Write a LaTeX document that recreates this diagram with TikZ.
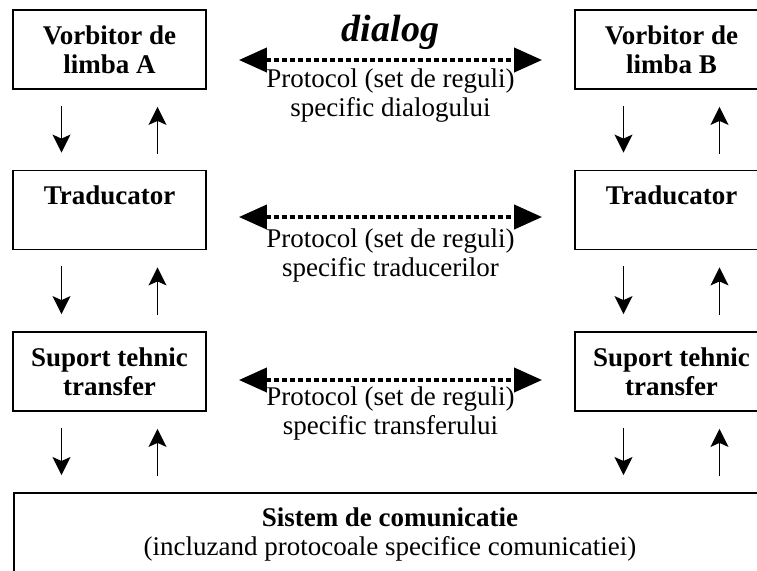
\documentclass[tikz,border=0pt]{standalone}
\usepackage{fontspec}
\setmainfont{Liberation Serif}
\usetikzlibrary{arrows.meta}

\tikzset{
  layer/.style={draw, line width=0.9pt, minimum width=96.5pt, minimum height=39.5pt,
    inner sep=0pt, align=center, font=\bfseries},
  flow/.style={-{Stealth[length=9pt,width=9pt,inset=2pt]}, line width=0.8pt,
    shorten <=8pt, shorten >=8.5pt},
  protocol/.style={{Triangle[length=14pt,width=12pt]}-{Triangle[length=14pt,width=12pt]},
    line width=2pt, dash pattern=on 2.5pt off 1.5pt, shorten <=16pt, shorten >=16pt},
}

\begin{document}
\fontsize{13.5}{14.5}\selectfont
\begin{tikzpicture}[x=0.5pt, y=-0.5pt]
    \clip (0,0) rectangle (757,570);

    % side A
    \node[layer] (vorbA) at (109.5,49.5) {Vorbitor de\\limba A};
    \node[layer] (tradA) at (109.5,210) {Traducator\\\mbox{}};
    \node[layer] (supA) at (109.5,371.5) {Suport tehnic\\transfer};

    % side B
    \node[layer] (vorbB) at (671.5,49.5) {Vorbitor de\\limba B};
    \node[layer] (tradB) at (671.5,210) {Traducator\\\mbox{}};
    \node[layer] (supB) at (671.5,371.5) {Suport tehnic\\transfer};

    % sistem de comunicatie
    \node[draw, line width=0.9pt, minimum width=387pt, minimum height=54pt, anchor=north west] (sistem) at (13,492) {};
    \node[align=center] (sistemtxt) at (390,534) {\textbf{Sistem de comunicatie}\\(incluzand protocoale specifice comunicatiei)};

    % fluxuri verticale
    \draw[flow] ([xshift=-24pt]vorbA.south) -- ([xshift=-24pt]tradA.north);
    \draw[flow] ([xshift=24pt]tradA.north) -- ([xshift=24pt]vorbA.south);
    \draw[flow] ([xshift=-24pt]tradA.south) -- ([xshift=-24pt]supA.north);
    \draw[flow] ([xshift=24pt]supA.north) -- ([xshift=24pt]tradA.south);
    \draw[flow] ([xshift=-24pt]supA.south) -- ([xshift=-24pt]supA.south |- sistem.north);
    \draw[flow] ([xshift=24pt]supA.south |- sistem.north) -- ([xshift=24pt]supA.south);

    \draw[flow] ([xshift=-24pt]vorbB.south) -- ([xshift=-24pt]tradB.north);
    \draw[flow] ([xshift=24pt]tradB.north) -- ([xshift=24pt]vorbB.south);
    \draw[flow] ([xshift=-24pt]tradB.south) -- ([xshift=-24pt]supB.north);
    \draw[flow] ([xshift=24pt]supB.north) -- ([xshift=24pt]tradB.south);
    \draw[flow] ([xshift=-24pt]supB.south) -- ([xshift=-24pt]supB.south |- sistem.north);
    \draw[flow] ([xshift=24pt]supB.south |- sistem.north) -- ([xshift=24pt]supB.south);

    % protocoale
    \draw[protocol] ([yshift=-5.25pt]vorbA.east) -- ([yshift=-5.25pt]vorbB.west);
    \node[font=\fontsize{19}{20}\selectfont\bfseries\itshape] (dialog) at (390.5,32) {dialog};
    \node[align=center] (protdialog) at (390.5,96) {Protocol (set de reguli)\\specific dialogului};

    \draw[protocol] ([yshift=-3.5pt]tradA.east) -- ([yshift=-3.5pt]tradB.west);
    \node[align=center] (protrad) at (390.5,255.5) {Protocol (set de reguli)\\specific traducerilor};

    \draw[protocol] ([yshift=-4.25pt]supA.east) -- ([yshift=-4.25pt]supB.west);
    \node[align=center] (protransf) at (390.5,413) {Protocol (set de reguli)\\specific transferului};

\end{tikzpicture}
\end{document}
